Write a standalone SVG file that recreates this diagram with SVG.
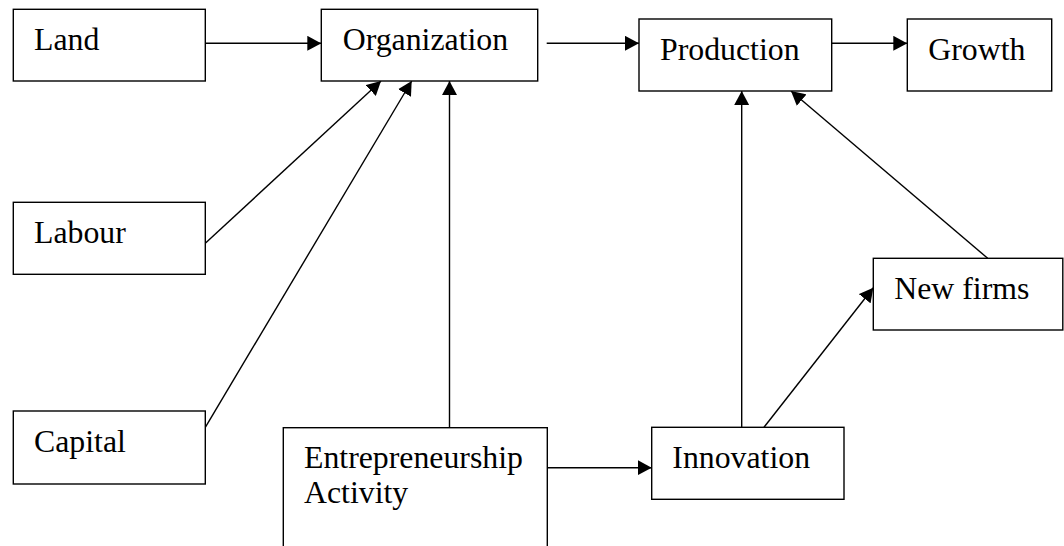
<svg xmlns="http://www.w3.org/2000/svg" width="1064" height="546" viewBox="0 0 1064 546">
<style>
.box{fill:#fff;stroke:#000;stroke-width:1.4}
.lbl{font-family:"Liberation Serif","Times New Roman",serif;font-size:31.8px;fill:#000}
.cn{stroke:#000;stroke-width:1.4;fill:none}
.ar{marker-end:url(#ah)}
</style>
<defs>
<marker id="ah" viewBox="0 0 14 15" refX="14" refY="7.5" markerWidth="14" markerHeight="15" markerUnits="userSpaceOnUse" orient="auto">
<path d="M0,0 L14,7.5 L0,15 z" fill="#000"/>
</marker>
</defs>
<rect width="1064" height="546" fill="#fff"/>
<g id="connectors">
<line class="cn ar" x1="205.3" y1="43.3" x2="321.3" y2="43.3"/>
<line class="cn ar" x1="546.7" y1="43.3" x2="639" y2="43.3"/>
<line class="cn ar" x1="831.7" y1="43.3" x2="907.3" y2="43.3"/>
<line class="cn ar" x1="205.3" y1="243.3" x2="381" y2="81"/>
<line class="cn ar" x1="205.3" y1="427.3" x2="411.7" y2="81"/>
<line class="cn ar" x1="449.5" y1="427.7" x2="449.5" y2="81"/>
<line class="cn ar" x1="547.3" y1="467.7" x2="651.7" y2="467.7"/>
<line class="cn ar" x1="741.7" y1="427.3" x2="741.7" y2="91"/>
<line class="cn ar" x1="764" y1="427.3" x2="873.3" y2="287.7"/>
<line class="cn ar" x1="987.7" y1="258.3" x2="791" y2="91"/>
</g>
<g id="land"><rect class="box" x="13.3" y="9.3" width="192" height="71.7"/><text class="lbl" x="34" y="50">Land</text></g>
<g id="organization"><rect class="box" x="321.3" y="9.3" width="216.4" height="71.7"/><text class="lbl" x="342.7" y="50">Organization</text></g>
<g id="production"><rect class="box" x="639" y="19" width="192.7" height="72"/><text class="lbl" x="660" y="60">Production</text></g>
<g id="growth"><rect class="box" x="907.3" y="19" width="144.4" height="72"/><text class="lbl" x="928.3" y="60">Growth</text></g>
<g id="labour"><rect class="box" x="13.3" y="202.3" width="192" height="72"/><text class="lbl" x="34" y="242.7">Labour</text></g>
<g id="capital"><rect class="box" x="13.3" y="411" width="192" height="73"/><text class="lbl" x="34" y="451.7">Capital</text></g>
<g id="entrepreneurship"><rect class="box" x="283.3" y="427.7" width="264" height="130"/><text class="lbl" x="304" y="468.3">Entrepreneurship</text><text class="lbl" x="304" y="503.3">Activity</text></g>
<g id="innovation"><rect class="box" x="651.7" y="427.3" width="192.3" height="72"/><text class="lbl" x="672.3" y="467.7">Innovation</text></g>
<g id="newfirms"><rect class="box" x="873.3" y="258.3" width="189.5" height="71.7"/><text class="lbl" x="894.3" y="299.3">New firms</text></g>
</svg>
